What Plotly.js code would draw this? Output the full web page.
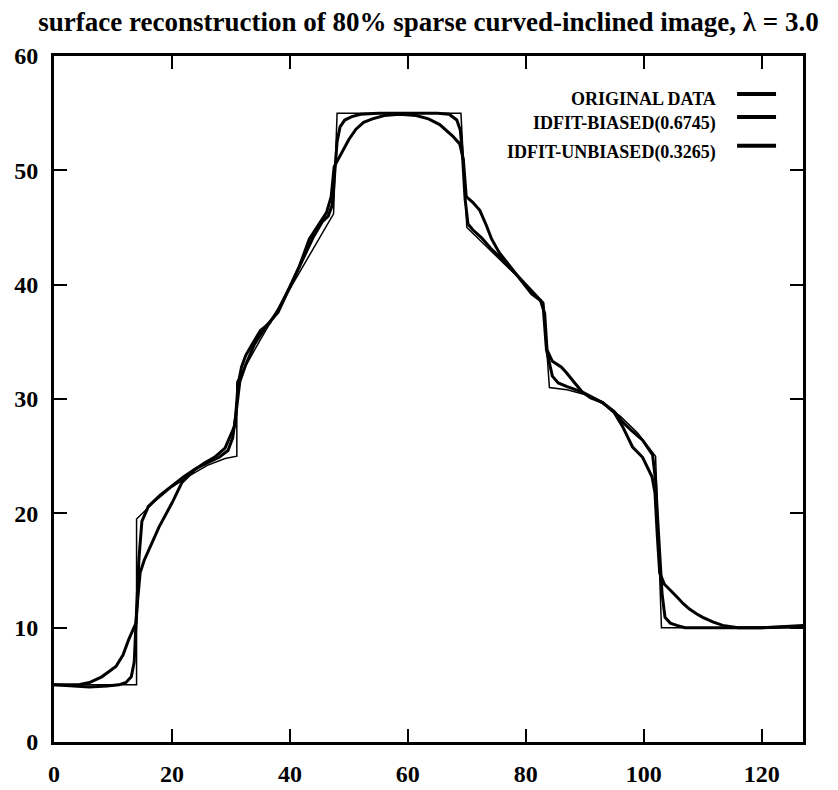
<!DOCTYPE html>
<html>
<head>
<meta charset="utf-8">
<script src="https://cdn.plot.ly/plotly-3.0.1.min.js"></script>
<style>
  html, body { margin: 0; padding: 0; background: #fff; }
  #chart { width: 838px; height: 790px; }
</style>
</head>
<body>
<div id="chart"></div>
<script>
// Original profile: flat / curved / inclined / flat-top / inclined / curved / flat
const originalX = [0, 14, 14, 17, 20, 23, 26, 29, 31, 31, 35, 40, 45, 47.4, 48, 69, 70, 75, 80, 83, 84, 87, 90, 93, 96, 99, 102, 103, 127];
const originalY = [5, 5, 19.5, 21, 22.3, 23.3, 24.2, 24.8, 25, 31.5, 35.2, 39.6, 44.1, 46.2, 55, 55, 45, 42.5, 40, 38.4, 31, 30.8, 30.4, 29.6, 28.5, 27, 25, 10, 10];

// IDFIT reconstruction, biased estimator
const biasedX = [0, 3, 6, 9, 11, 12.2, 13.1, 13.6, 14, 14.4, 14.9, 16, 18, 20, 22, 24, 26, 28, 29.5, 30.3, 30.8, 31.2, 31.8, 32.5, 33.5, 35, 36.5, 38, 40, 42, 44, 45.5, 46.5, 47.2, 47.6, 48, 48.5, 49.3, 50.5, 52, 55, 60, 65, 67, 68.3, 68.9, 69.3, 69.7, 70.2, 71, 72.5, 74, 76, 78, 80, 81.8, 82.9, 83.5, 84, 84.5, 85.5, 86.9, 89.6, 91, 93, 95, 96.4, 98, 99.8, 101.5, 102, 102.3, 102.7, 103.1, 103.6, 104.5, 105.6, 107, 110, 115, 120, 124, 127];
const biasedY = [5, 4.9, 4.8, 4.9, 5, 5.2, 5.7, 7, 11, 16, 19.3, 20.6, 21.6, 22.4, 23.2, 23.9, 24.4, 24.9, 25.5, 26.6, 28.5, 31.2, 32.8, 33.8, 34.7, 36, 36.6, 37.8, 39.8, 42, 44.2, 45.5, 46, 47, 49.5, 52.5, 53.8, 54.4, 54.7, 54.9, 55, 55, 55, 54.9, 54.4, 53.5, 51, 47.5, 45.3, 44.8, 44.1, 43.2, 42.2, 41.1, 40, 39.1, 38.4, 34.3, 33, 32, 31.4, 31.1, 30.6, 30.2, 29.7, 28.9, 28, 27.2, 26.4, 25.1, 22.9, 20, 16, 13, 10.9, 10.4, 10.2, 10, 10, 10, 10, 10.1, 10.2];

// IDFIT reconstruction, unbiased estimator
const unbiasedX = [0, 4.2, 6, 8.1, 10.5, 11.7, 12.7, 13.3, 13.9, 14.2, 14.6, 15.3, 16.1, 17.8, 20, 21.7, 23.8, 25.5, 27.2, 29, 30.6, 31, 31.5, 32.5, 34, 36, 38, 40, 41.6, 43.3, 45, 46.2, 47, 47.5, 47.9, 49, 50, 51.2, 52.5, 54, 56, 58.6, 61.4, 63.5, 65.4, 67.6, 68.8, 69.4, 69.9, 71, 72.2, 73.3, 74.2, 75.5, 77, 79.5, 81, 82.5, 83.2, 83.6, 84.5, 86, 86.9, 88.3, 89.6, 91, 93, 95, 96.4, 98.1, 99.8, 101.4, 101.9, 102.3, 102.7, 103.5, 104.5, 105.6, 106.7, 107.8, 109, 110, 111.7, 113.4, 116, 120, 127];
const unbiasedY = [5, 5, 5.2, 5.7, 6.6, 7.6, 9.0, 9.7, 10.4, 12.5, 14.8, 15.9, 16.8, 18.8, 20.9, 22.7, 23.8, 24.4, 24.9, 25.7, 27.6, 29.5, 31.5, 33, 34.8, 36.4, 37.6, 39.8, 41.6, 44, 45.4, 46.3, 47.7, 50.3, 50.7, 51.8, 52.7, 53.6, 54.2, 54.5, 54.8, 54.9, 54.8, 54.5, 54, 53, 52.3, 51, 47.7, 47.2, 46.5, 45.2, 44, 42.8, 41.8, 40.2, 39.2, 38.6, 37.5, 34.3, 33.3, 32.8, 32.3, 31.4, 30.6, 30.1, 29.7, 28.8, 27.6, 25.8, 24.9, 23.2, 21.8, 18, 14.8, 13.8, 13.3, 12.7, 12.1, 11.6, 11.2, 10.9, 10.5, 10.2, 10, 10, 10.1];

const xTicks = [0, 20, 40, 60, 80, 100, 120];
const yTicks = [0, 10, 20, 30, 40, 50, 60];

const legendLabels = ['ORIGINAL DATA', 'IDFIT-BIASED(0.6745)', 'IDFIT-UNBIASED(0.3265)'];

const serif = 'Liberation Serif, Times New Roman, serif';

const traces = [
  { x: originalX, y: originalY, name: legendLabels[0], mode: 'lines',
    line: { color: '#000', width: 1.5 } },
  { x: biasedX, y: biasedY, name: legendLabels[1], mode: 'lines',
    line: { color: '#000', width: 3 } },
  { x: unbiasedX, y: unbiasedY, name: legendLabels[2], mode: 'lines',
    line: { color: '#000', width: 3 } }
];

// Hand-placed key: right-aligned labels with a short line to the right
const keyLineRows = [0.9446, 0.911, 0.869];
const keyTextRows = [0.937, 0.902, 0.860];
const annotations = legendLabels.map((t, i) => ({
  text: t, xref: 'paper', yref: 'paper', x: 0.8865, y: keyTextRows[i],
  xanchor: 'right', yanchor: 'middle', showarrow: false,
  font: { family: serif, size: 18, color: '#000', weight: 'bold' }
}));
const shapes = keyLineRows.map(r => ({
  type: 'line', xref: 'paper', yref: 'paper', x0: 0.912, x1: 0.964, y0: r, y1: r,
  line: { color: '#000', width: 4 }
}));

const axisCommon = {
  ticks: 'inside', ticklen: 13, tickwidth: 2, tickcolor: '#000',
  mirror: 'ticks', showline: true, linewidth: 3, linecolor: '#000',
  showgrid: false, zeroline: false,
  tickfont: { family: serif, size: 24, color: '#000', weight: 'bold' }
};

const layout = {
  width: 838, height: 790,
  margin: { l: 54, r: 35, t: 56, b: 48 },
  paper_bgcolor: '#fff', plot_bgcolor: '#fff',
  showlegend: false,
  title: {
    text: 'surface reconstruction of 80% sparse curved-inclined image, λ = 3.0',
    font: { family: serif, size: 27, color: '#000', weight: 'bold' },
    xref: 'paper', x: 0.5, xanchor: 'center',
    yref: 'container', y: 0.973, yanchor: 'middle'
  },
  xaxis: Object.assign({}, axisCommon, {
    range: [0, 127], tickmode: 'array', tickvals: xTicks, ticktext: xTicks.map(String),
    ticklabelstandoff: 8
  }),
  yaxis: Object.assign({}, axisCommon, {
    range: [0, 60], tickmode: 'array', tickvals: yTicks, ticktext: yTicks.map(String),
    ticklabelstandoff: 8
  }),
  annotations: annotations,
  shapes: shapes
};

Plotly.newPlot('chart', traces, layout, { displayModeBar: false, staticPlot: true });
</script>
</body>
</html>
